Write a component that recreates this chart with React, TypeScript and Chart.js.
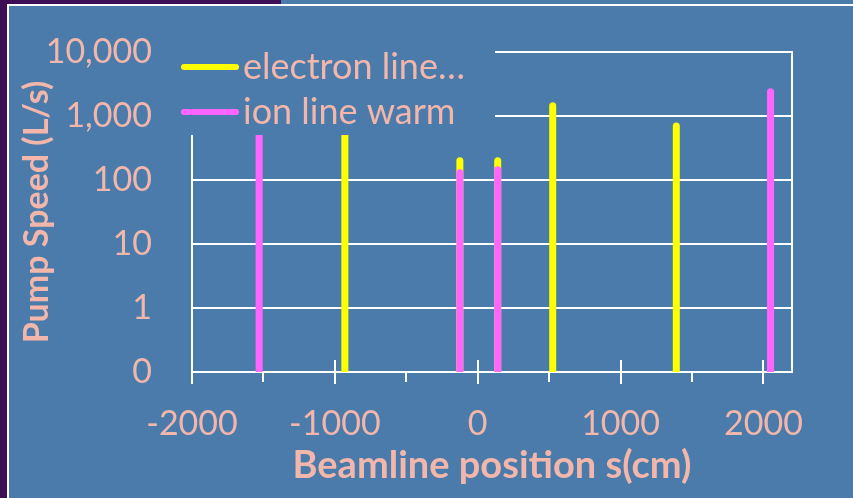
import React, { useEffect, useRef } from "react";
import { Chart, registerables } from "chart.js";

Chart.register(...registerables);

// ---- data ----
const seriesNames = ["electron line…", "ion line warm"];
const electronPositions = [-930, -125, 140, 525, 1390];
const electronSpeeds = [600, 200, 200, 1450, 700];
const ionPositions = [-1530, -125, 140, 2050];
const ionSpeeds = [600, 130, 145, 2400];
const yTickValues = [0.1, 1, 10, 100, 1000, 10000];
const yTickLabels = ["0", "1", "10", "100", "1,000", "10,000"];
const xTickValues = [-2000, -1000, 0, 1000, 2000];
const xTickLabels = ["-2000", "-1000", "0", "1000", "2000"];

const BLUE = "#4A7BAB";
const PURPLE = "#3F0F55";
const PINK = "rgb(242,182,170)";
const YELLOW = "#FFFF00";
const MAGENTA = "#FF66FF";
const FONT = "Lato";

function stems(xs: number[], ys: number[]) {
  const pts: any[] = [];
  xs.forEach((x, i) => {
    pts.push({ x, y: yTickValues[0] });
    pts.push({ x, y: ys[i] });
    pts.push({ x, y: null });
  });
  return pts;
}

const decorPlugin = {
  id: "decor",
  afterDraw(chart: any) {
    const { ctx, chartArea, scales } = chart;
    const xs = scales.x;
    ctx.save();
    ctx.strokeStyle = "#FFFFFF";
    ctx.lineWidth = 2;
    // right border
    ctx.beginPath();
    ctx.moveTo(chartArea.right, chartArea.top - 1);
    ctx.lineTo(chartArea.right, chartArea.bottom + 1);
    ctx.stroke();
    // major ticks crossing axis
    const b = chartArea.bottom;
    xTickValues.forEach((v) => {
      const px = Math.round(xs.getPixelForValue(v));
      ctx.beginPath();
      ctx.moveTo(px, b - 12);
      ctx.lineTo(px, b + 12);
      ctx.stroke();
    });
    // minor ticks (outside)
    for (let i = 0; i < xTickValues.length - 1; i++) {
      const v = (xTickValues[i] + xTickValues[i + 1]) / 2;
      const px = Math.round(xs.getPixelForValue(v));
      ctx.beginPath();
      ctx.moveTo(px, b);
      ctx.lineTo(px, b + 10);
      ctx.stroke();
    }
    // legend box (overlays plot)
    const L = chartArea.left;
    const T = chartArea.top;
    ctx.fillStyle = BLUE;
    ctx.fillRect(L - 30, T - 20, 333, 103);
    const colors = [YELLOW, MAGENTA];
    ctx.font = `36px ${FONT}`;
    ctx.textBaseline = "middle";
    ctx.textAlign = "left";
    seriesNames.forEach((name, i) => {
      const y = T + 15 + i * 45;
      ctx.strokeStyle = colors[i];
      ctx.lineWidth = 6;
      ctx.lineCap = "round";
      ctx.beginPath();
      ctx.moveTo(L - 8, y);
      ctx.lineTo(L + 44, y);
      ctx.stroke();
      ctx.fillStyle = PINK;
      ctx.fillText(name, L + 51, y);
    });
    ctx.restore();
  },
};

export default function App() {
  const ref = useRef<HTMLCanvasElement>(null);
  useEffect(() => {
    const chart = new Chart(ref.current as HTMLCanvasElement, {
      type: "line",
      data: {
        datasets: [
          {
            label: seriesNames[0],
            data: stems(electronPositions, electronSpeeds),
            borderColor: YELLOW,
            backgroundColor: YELLOW,
            borderWidth: 7,
            borderCapStyle: "round",
            pointRadius: 0,
            spanGaps: false,
            order: 1,
          },
          {
            label: seriesNames[1],
            data: stems(ionPositions, ionSpeeds),
            borderColor: MAGENTA,
            backgroundColor: MAGENTA,
            borderWidth: 7,
            borderCapStyle: "round",
            pointRadius: 0,
            spanGaps: false,
            order: 0,
          },
        ],
      },
      options: {
        responsive: false,
        animation: false,
        layout: { padding: { left: 15, top: 52, right: 61, bottom: 9 } },
        plugins: { legend: { display: false }, tooltip: { enabled: false } },
        scales: {
          x: {
            type: "linear",
            min: -2000,
            max: 2200,
            afterBuildTicks: (s: any) => {
              s.ticks = xTickValues.map((v) => ({ value: v }));
            },
            afterFit: (s: any) => {
              s.height = 117;
              s.paddingLeft = 0;
              s.paddingRight = 0;
            },
            grid: { display: false, drawTicks: false },
            border: { display: true, color: "#FFFFFF", width: 2 },
            ticks: {
              color: PINK,
              font: { family: FONT, size: 34 },
              padding: 32,
              maxRotation: 0,
              autoSkip: false,
              callback: (_v: any, i: number) => xTickLabels[i],
            },
            title: {
              display: true,
              text: "Beamline position s(cm)",
              color: PINK,
              font: { family: FONT, size: 38, weight: "bold" },
              padding: 0,
            },
          },
          y: {
            type: "logarithmic",
            min: 0.1,
            max: 10000,
            afterBuildTicks: (s: any) => {
              s.ticks = yTickValues.map((v) => ({ value: v }));
            },
            afterFit: (s: any) => {
              s.width = 177;
              s.paddingTop = 0;
              s.paddingBottom = 0;
            },
            grid: { color: "#FFFFFF", lineWidth: 2, drawTicks: false },
            border: { display: true, color: "#FFFFFF", width: 2 },
            ticks: {
              color: PINK,
              font: { family: FONT, size: 34 },
              padding: 40,
              autoSkip: false,
              callback: (_v: any, i: number) => yTickLabels[i],
            },
            title: {
              display: true,
              text: "Pump Speed (L/s)",
              color: PINK,
              font: { family: FONT, size: 34, weight: "bold" },
              padding: { top: 2, bottom: 0 },
            },
          },
        },
      },
      plugins: [decorPlugin],
    } as any);
    return () => chart.destroy();
  }, []);

  return (
    <div
      style={{
        position: "fixed",
        left: 0,
        top: 0,
        width: 853,
        height: 498,
        background: BLUE,
        overflow: "hidden",
      }}
    >
      <div style={{ position: "absolute", left: 0, top: 0, width: 7, height: 498, background: PURPLE }} />
      <div style={{ position: "absolute", left: 0, top: 0, width: 281, height: 4, background: PURPLE }} />
      <div style={{ position: "absolute", left: 7, top: 4, width: 2, height: 494, background: "#FFFFFF" }} />
      <div style={{ position: "absolute", left: 7, top: 4, width: 846, height: 2, background: "#FFFFFF" }} />
      <canvas ref={ref} width={853} height={498} style={{ position: "absolute", left: 0, top: 0 }} />
    </div>
  );
}
